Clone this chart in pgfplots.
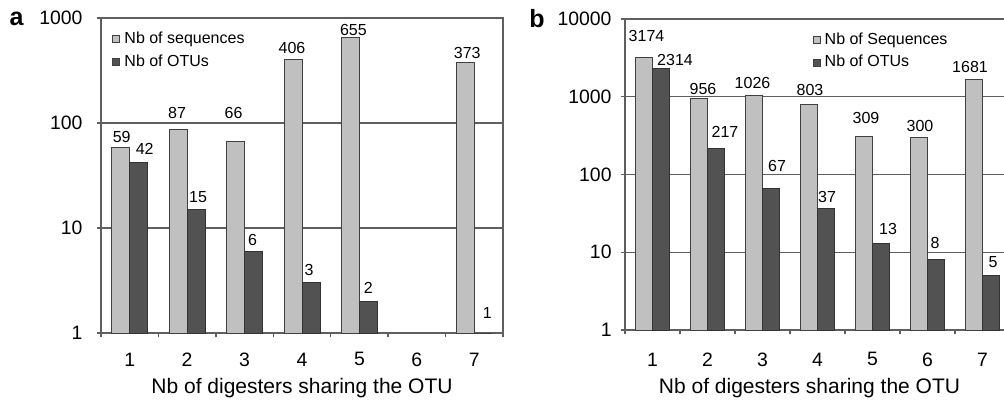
\documentclass[border=0pt]{standalone}
\usepackage{fontspec}
\setmainfont{Liberation Sans}
\usepackage{pgfplots}
\pgfplotsset{compat=1.18}
\definecolor{lightbar}{RGB}{192,192,192}
\definecolor{darkbar}{RGB}{82,82,82}
\definecolor{framec}{RGB}{95,95,95}
% label: #1 = x offset (pt), #2 = y offset of the label's centre above the bar top (pt), #3 = text
\newcommand\lb[3]{\raisebox{\dimexpr#2pt-2.85pt\relax}[0pt][0pt]{\makebox[0pt][l]{\hspace*{#1pt}\makebox[0pt]{#3}}}}

\pgfplotsset{
  every axis/.append style={
    scale only axis,
    xmin=0.5, xmax=7.5,
    xtick={1,...,7},
    xticklabels={1,2,3,4,5,6,7},
    minor xtick={0.5,1.5,...,7.5},
    tick pos=left,
    tick align=outside,
    major tick length=2.2pt,
    minor tick length=2.2pt,
    axis line style={framec, line width=0.7pt},
    ymajorgrids,
    major grid style={framec, line width=0.6pt},
    tick label style={font=\fontsize{9.7}{11}\selectfont},
    legend style={draw=none, fill=none, font=\fontsize{8}{9.5}\selectfont,
      anchor=north west, inner sep=0pt, row sep=0pt},
    legend cell align=left,
    point meta=explicit symbolic,
    nodes near coords={\pgfplotspointmeta},
    every node near coord/.append style={anchor=center, inner sep=0pt,
      font=\fontsize{8}{9}\selectfont, text=black},
  },
  every minor x tick/.append style={framec, line width=0.7pt},
  every major x tick/.append style={draw=none},
  every minor y tick/.append style={draw=none},
  every major y tick/.append style={framec, line width=0.7pt},
  seqbar/.style={fill=lightbar, draw=black!75, line width=0.5pt},
  otubar/.style={fill=darkbar, draw=black!80, line width=0.5pt},
}

\begin{document}
\begin{tikzpicture}
\useasboundingbox (0,0) rectangle (502pt,201.5pt);
\begin{axis}[
  at={(50.5pt,35pt)}, anchor=south west,
  width=201pt, height=157.5pt,
  ymode=log, ymin=1, ymax=1000,
  ybar=0pt, bar width=9pt,
  ytick={1,10,100,1000}, yticklabels={1,10,100,1000},
  yticklabel style={xshift=-3.5pt},
  xlabel={Nb of digesters sharing the OTU},
  xlabel style={font=\fontsize{10.5}{12}\selectfont, at={(axis description cs:0.5,0)}, anchor=center, yshift=-27.5pt},
  xticklabel style={anchor=center, yshift=-11pt},
  legend style={at={(0.027,0.97)}},
  legend image code/.code={\draw[#1, draw=black!75, line width=0.5pt] (0pt,-1.8pt) rectangle (3.6pt,1.8pt);},
]
\addplot[seqbar] coordinates {
  (1,59)  [\lb{0.5}{5}{59}]
  (2,87)  [\lb{-0.5}{8.5}{87}]
  (3,66)  [\lb{-1}{14.5}{66}]
  (4,406) [\lb{-0.5}{5.5}{406}]
  (5,655) [\lb{1.5}{3.6}{655}]
  (7,373) [\lb{1}{5}{373}]
};
\addlegendentry{Nb of sequences}
\addplot[otubar] coordinates {
  (1,42) [\lb{3}{6.8}{42}]
  (2,15) [\lb{1}{6.3}{15}]
  (3,6)  [\lb{-0.5}{6}{6}]
  (4,3)  [\lb{-1}{6.5}{3}]
  (5,2)  [\lb{0}{6.7}{2}]
  (7,1)  [\lb{2}{10}{1}]
};
\addlegendentry{Nb of OTUs}
\end{axis}
\begin{axis}[
  at={(312.5pt,36.5pt)}, anchor=south west,
  width=192.5pt, height=155.5pt,
  ymode=log, ymin=1, ymax=10000,
  ybar=0pt, bar width=8.5pt,
  ytick={1,10,100,1000,10000}, yticklabels={1,10,100,1000,10000},
  yticklabel style={xshift=-1pt},
  xlabel={Nb of digesters sharing the OTU},
  xlabel style={font=\fontsize{10.5}{12}\selectfont, at={(axis description cs:0.5,0)}, anchor=center, yshift=-29pt, xshift=-4pt},
  xticklabel style={anchor=center, yshift=-12.5pt},
  legend style={at={(0.486,0.97)}},
  legend image code/.code={\draw[#1, draw=black!75, line width=0.5pt] (0pt,-1.8pt) rectangle (3.6pt,1.8pt);},
]
\addplot[seqbar] coordinates {
  (1,3174) [\lb{1.25}{11}{3174}]
  (2,956)  [\lb{2}{4.75}{956}]
  (3,1026) [\lb{-0.75}{6.5}{1026}]
  (4,803)  [\lb{0.5}{7}{803}]
  (5,309)  [\lb{1}{9.5}{309}]
  (6,300)  [\lb{0.5}{6}{300}]
  (7,1681) [\lb{-2}{6}{1681}]
};
\addlegendentry{Nb of Sequences}
\addplot[otubar] coordinates {
  (1,2314) [\lb{7}{4.3}{2314}]
  (2,217)  [\lb{4.5}{8.5}{217}]
  (3,67)   [\lb{3}{11}{67}]
  (4,37)   [\lb{0.5}{5.5}{37}]
  (5,13)   [\lb{3.5}{7.5}{13}]
  (6,8)    [\lb{-0.5}{8.5}{8}]
  (7,5)    [\lb{1}{7}{5}]
};
\addlegendentry{Nb of OTUs}
\end{axis}
\node[font=\bfseries\fontsize{12.5}{14}\selectfont, anchor=base] at (8.25pt,189pt) {a};
\node[font=\bfseries\fontsize{12.5}{14}\selectfont, anchor=base] at (268.5pt,188pt) {b};
\end{tikzpicture}
\end{document}
